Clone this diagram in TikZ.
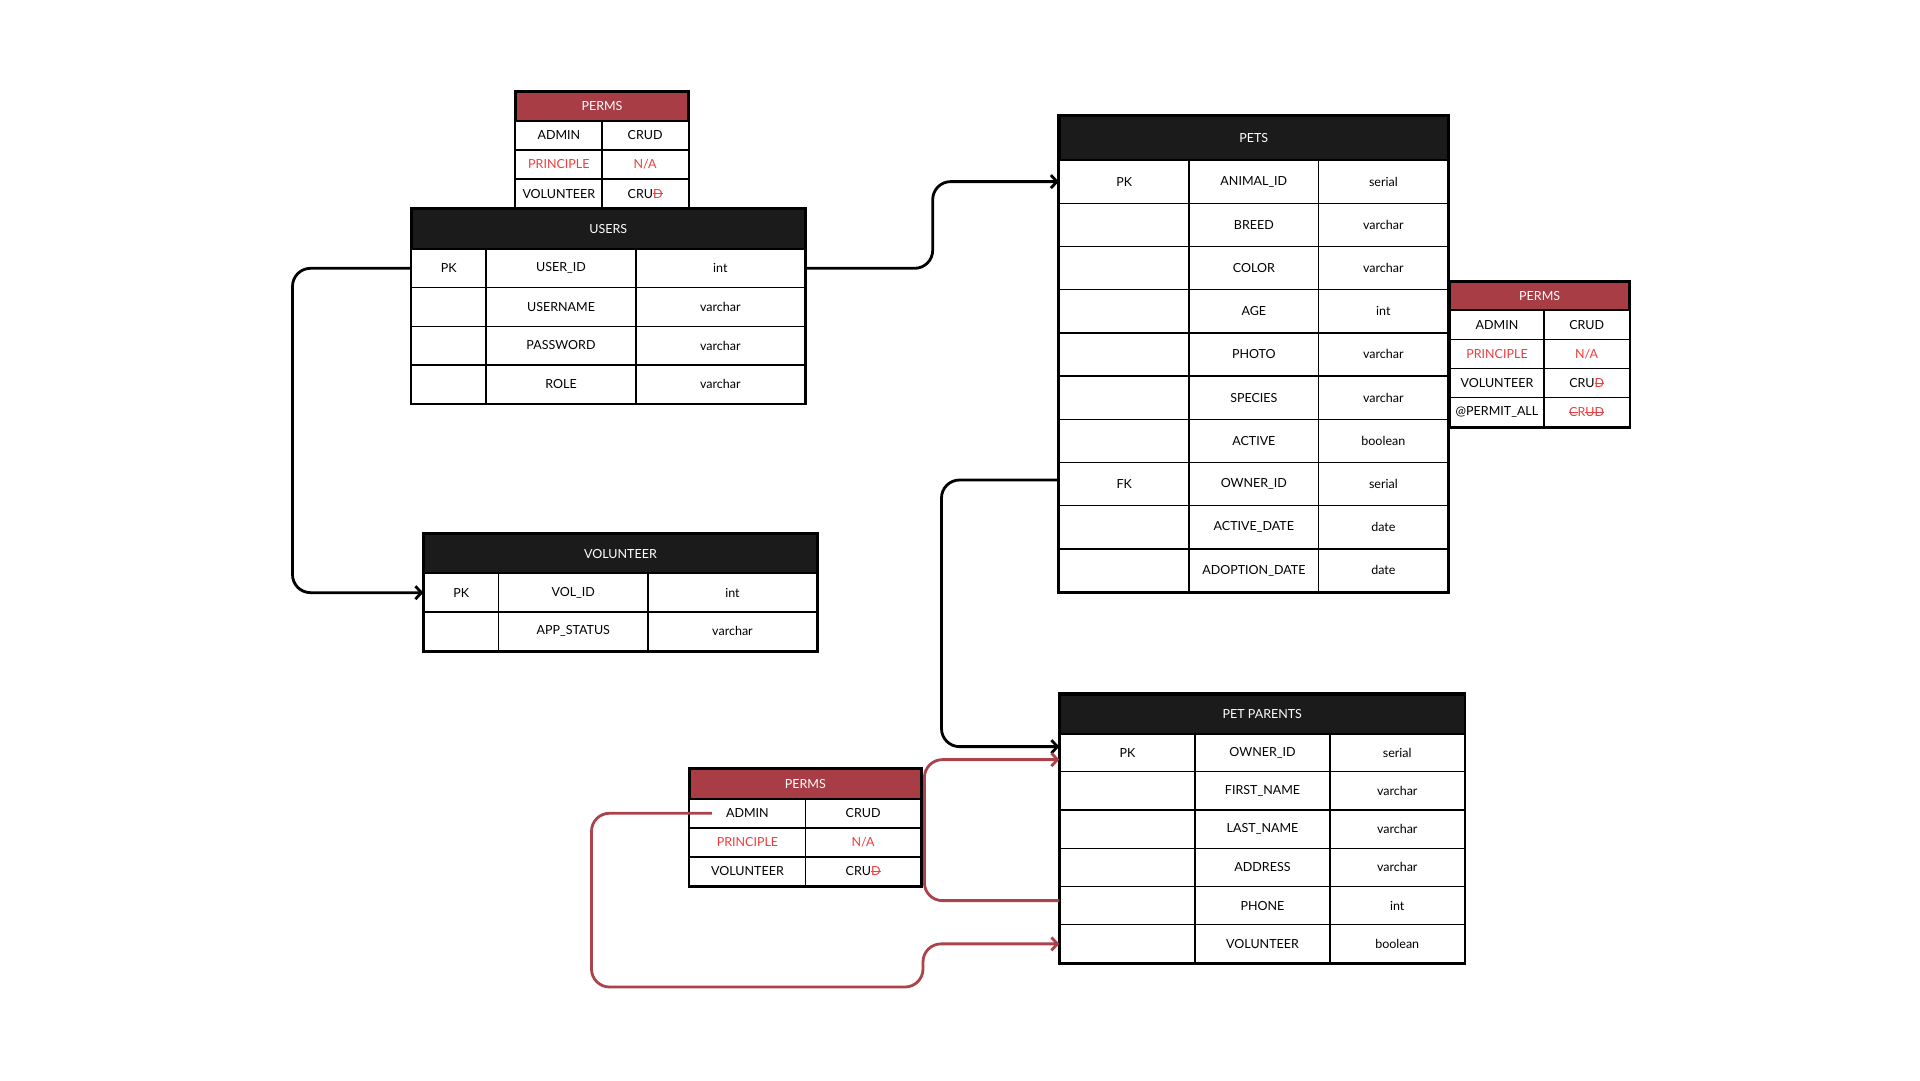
\documentclass[tikz,border=0pt]{standalone}
\usepackage{fontspec}
\setmainfont{Lato}
\usetikzlibrary{arrows.meta}

\definecolor{hdrblack}{HTML}{1B1B1B}
\definecolor{permred}{HTML}{A83D45}
\definecolor{textred}{HTML}{F03C3C}
\definecolor{linkred}{HTML}{AA434B}

\newcommand{\cellfont}{\fontsize{12.5}{14}\selectfont}
\newsavebox{\cutbox}
\newcommand{\strikeit}[1]{\sbox{\cutbox}{#1}\rlap{\usebox{\cutbox}}\rule[0.32em]{\wd\cutbox}{0.9pt}}
\newcommand{\cutred}[1]{\textcolor{textred}{\strikeit{#1}}}

\tikzset{
  cell/.style={draw=black, line width=1.4pt, inner sep=0pt, font=\cellfont, text=black},
  tblhead/.style={draw=black, fill=hdrblack, line width=2pt, inner sep=0pt, font=\cellfont, text=white},
  permhead/.style={tblhead, fill=permred},
  outline/.style={draw=black, line width=2.2pt},
  link/.style={line width=2.8pt, rounded corners=18pt, -{Straight Barb[length=6pt,width=13pt]}},
  redlink/.style={link, draw=linkred},
}

\begin{document}
\begin{tikzpicture}[x=1pt, y=-1pt]
  \fill[white] (0,0) rectangle (1920,1080);
  \useasboundingbox (0,0) rectangle (1920,1080);

  % users
  \node[tblhead, minimum width=393pt, minimum height=39.5pt] (users) at (608.2,229) {USERS};
  \foreach \k/\n/\t [count=\i] in {PK/USER\_ID/int, {}/USERNAME/varchar, {}/PASSWORD/varchar, {}/ROLE/varchar} {
    \node[cell, minimum width=74.3pt, minimum height=38.6pt] (users-\i-1) at (448.85, 229.7+38.6*\i) {\k};
    \node[cell, minimum width=150pt, minimum height=38.6pt] (users-\i-2) at (561, 229.7+38.6*\i) {\n};
    \node[cell, minimum width=168.7pt, minimum height=38.6pt] (users-\i-3) at (720.35, 229.7+38.6*\i) {\t};
  }
  \draw[outline] (users.north west) rectangle (users-4-3.south east);

  % volunteer
  \node[tblhead, minimum width=393pt, minimum height=39.3pt] (vol) at (620.5,553.65) {VOLUNTEER};
  \foreach \k/\n/\t [count=\i] in {PK/VOL\_ID/int, {}/APP\_STATUS/varchar} {
    \node[cell, minimum width=74.5pt, minimum height=38.7pt] (vol-\i-1) at (461.25, 553.95+38.7*\i) {\k};
    \node[cell, minimum width=149.5pt, minimum height=38.7pt] (vol-\i-2) at (573.25, 553.95+38.7*\i) {\n};
    \node[cell, minimum width=169pt, minimum height=38.7pt] (vol-\i-3) at (732.5, 553.95+38.7*\i) {\t};
  }
  \draw[outline] (vol.north west) rectangle (vol-2-3.south east);

  % pets
  \node[tblhead, minimum width=388.5pt, minimum height=44pt] (pets) at (1253.75,138) {PETS};
  \foreach \k/\n/\t [count=\i] in {PK/ANIMAL\_ID/serial, {}/BREED/varchar, {}/COLOR/varchar, {}/AGE/int,
      {}/PHOTO/varchar, {}/SPECIES/varchar, {}/ACTIVE/boolean, FK/OWNER\_ID/serial,
      {}/ACTIVE\_DATE/date, {}/ADOPTION\_DATE/date} {
    \node[cell, minimum width=129.5pt, minimum height=43.2pt] (pets-\i-1) at (1124.25, 138.4+43.2*\i) {\k};
    \node[cell, minimum width=129.7pt, minimum height=43.2pt] (pets-\i-2) at (1253.85, 138.4+43.2*\i) {\n};
    \node[cell, minimum width=129.3pt, minimum height=43.2pt] (pets-\i-3) at (1383.35, 138.4+43.2*\i) {\t};
  }
  \draw[outline] (pets.north west) rectangle (pets-10-3.south east);

  % pet parents
  \node[tblhead, minimum width=404.5pt, minimum height=39pt] (parents) at (1262.25,714) {PET PARENTS};
  \foreach \k/\n/\t [count=\i] in {PK/OWNER\_ID/serial, {}/FIRST\_NAME/varchar, {}/LAST\_NAME/varchar,
      {}/ADDRESS/varchar, {}/PHONE/int, {}/VOLUNTEER/boolean} {
    \node[cell, minimum width=135pt, minimum height=38.25pt] (parents-\i-1) at (1127.5, 714.375+38.25*\i) {\k};
    \node[cell, minimum width=135pt, minimum height=38.25pt] (parents-\i-2) at (1262.5, 714.375+38.25*\i) {\n};
    \node[cell, minimum width=134.5pt, minimum height=38.25pt] (parents-\i-3) at (1397.25, 714.375+38.25*\i) {\t};
  }
  \draw[outline] (parents.north west) rectangle (parents-6-3.south east);

  % perms on users
  \node[permhead, minimum width=172.6pt, minimum height=29pt] (tperms) at (602,106.2) {PERMS};
  \foreach \r/\p [count=\i] in {ADMIN/CRUD, {\textcolor{textred}{PRINCIPLE}}/{\textcolor{textred}{N/A}}, VOLUNTEER/{CRU\cutred{D}}} {
    \node[cell, minimum width=86.3pt, minimum height=29.2pt] (tperms-\i-1) at (558.85, 106.1+29.2*\i) {\r};
    \node[cell, minimum width=86.3pt, minimum height=29.2pt] (tperms-\i-2) at (645.15, 106.1+29.2*\i) {\p};
  }
  \draw[outline] (tperms.north west) rectangle (tperms-3-2.south east);

  % perms on pets
  \node[permhead, minimum width=179.3pt, minimum height=28.3pt] (rperms) at (1539.65,295.85) {PERMS};
  \foreach \r/\p [count=\i] in {ADMIN/CRUD, {\textcolor{textred}{PRINCIPLE}}/{\textcolor{textred}{N/A}}, VOLUNTEER/{CRU\cutred{D}},
      {@PERMIT\_ALL}/{\textcolor{textred}{\strikeit{C}R\strikeit{UD}}}} {
    \node[cell, minimum width=94pt, minimum height=29.2pt] (rperms-\i-1) at (1497, 295.4+29.2*\i) {\r};
    \node[cell, minimum width=85.3pt, minimum height=29.2pt] (rperms-\i-2) at (1586.65, 295.4+29.2*\i) {\p};
  }
  \draw[outline] (rperms.north west) rectangle (rperms-4-2.south east);

  % perms on pet parents
  \node[permhead, minimum width=231.4pt, minimum height=29.4pt] (bperms) at (805.3,784) {PERMS};
  \foreach \r/\p [count=\i] in {ADMIN/CRUD, {\textcolor{textred}{PRINCIPLE}}/{\textcolor{textred}{N/A}}, VOLUNTEER/{CRU\cutred{D}}} {
    \node[cell, minimum width=115.7pt, minimum height=29.1pt] (bperms-\i-1) at (747.45, 784.15+29.1*\i) {\r};
    \node[cell, minimum width=115.7pt, minimum height=29.1pt] (bperms-\i-2) at (863.15, 784.15+29.1*\i) {\p};
  }
  \draw[outline] (bperms.north west) rectangle (bperms-3-2.south east);

  % links
  \coordinate (bendA) at (932.7,0);
  \coordinate (bendB) at (292.5,0);
  \coordinate (bendC) at (941.5,0);
  \coordinate (bendD) at (924.4,0);
  \coordinate (bendE) at (591.5,987);
  \coordinate (bendF) at (923,987);
  \coordinate (inA) at ([yshift=6pt]parents-1-1.west);
  \coordinate (inB) at ([yshift=-7pt]parents-1-1.west);

  \draw[link] (users-1-3.east) -| (bendA |- pets-1-1.west) -- (pets-1-1.west);
  \draw[link] (users-1-1.west) -| (bendB |- vol-1-1.west) -- (vol-1-1.west);
  \draw[link] ([yshift=4pt]pets-8-1.west) -| (bendC |- inA) -- (inA);
  \draw[redlink] ([yshift=5pt]parents-5-1.west) -| (bendD |- inB) -- (inB);
  \draw[redlink] ([xshift=23pt]bperms-1-1.west) -| (bendE) -- (bendF) |- (parents-6-1.west);
\end{tikzpicture}
\end{document}
